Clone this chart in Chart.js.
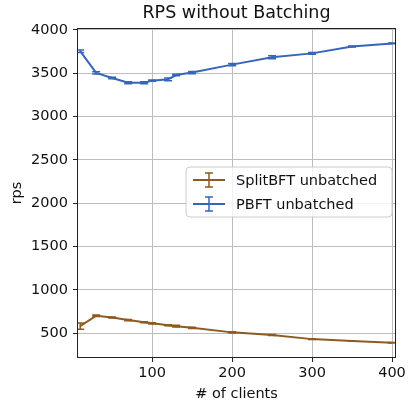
<!DOCTYPE html>
<html>
<head>
<meta charset="utf-8">
<script src="https://cdn.jsdelivr.net/npm/chart.js@4/dist/chart.umd.min.js"></script>
<style>
  html, body { margin: 0; padding: 0; background: #fff; }
  #wrap { width: 413px; height: 403px; }
</style>
</head>
<body>
<div id="wrap"><canvas id="rps" width="413" height="403"></canvas></div>
<script>
// values
const clients  = [10, 30, 50, 70, 90, 100, 120, 130, 150, 200, 250, 300, 350, 400];
const pbft     = [3755, 3505, 3445, 3390, 3390, 3415, 3430, 3480, 3508, 3600, 3685, 3730, 3810, 3845];
const pbftErr  = [15, 12, 8, 12, 12, 8, 15, 8, 12, 12, 18, 10, 5, 5];
const split    = [580, 700, 680, 650, 625, 612, 590, 580, 560, 508, 477, 430, 408, 388];
const splitErr = [35, 10, 6, 8, 6, 8, 6, 10, 6, 6, 6, 5, 4, 4];
const xTicks = [100, 200, 300, 400];
const yTicks = [500, 1000, 1500, 2000, 2500, 3000, 3500, 4000];

const ORANGE = "#8f5a22";
const BLUE = "#3666ba";
const FONT = "DejaVu Sans";

function pts(xs, ys){ return xs.map((x,i) => ({ x, y: ys[i] })); }

const extras = {
  id: "extras",
  afterDatasetsDraw(chart){
    const { ctx, chartArea: a, scales: { x, y } } = chart;
    // error bars
    const sets = [[split, splitErr, ORANGE], [pbft, pbftErr, BLUE]];
    ctx.save();
    ctx.beginPath(); ctx.rect(a.left, a.top, a.right - a.left, a.bottom - a.top); ctx.clip();
    sets.forEach(([vals, errs, col]) => {
      ctx.strokeStyle = col; ctx.lineWidth = 1.5;
      clients.forEach((c, i) => {
        const px = x.getPixelForValue(c);
        const y1 = y.getPixelForValue(vals[i] + errs[i]);
        const y2 = y.getPixelForValue(vals[i] - errs[i]);
        ctx.beginPath();
        ctx.moveTo(px, y1); ctx.lineTo(px, y2);
        ctx.moveTo(px - 4, y1); ctx.lineTo(px + 4, y1);
        ctx.moveTo(px - 4, y2); ctx.lineTo(px + 4, y2);
        ctx.stroke();
      });
    });
    ctx.restore();
  },
  afterDraw(chart){
    const { ctx, chartArea: a } = chart;
    ctx.save();
    // frame
    ctx.strokeStyle = "#222"; ctx.lineWidth = 1;
    ctx.strokeRect(a.left + 0.5, a.top + 0.5, a.right - a.left - 1, a.bottom - a.top - 1);
    // texts
    ctx.fillStyle = "#111";
    ctx.textAlign = "center"; ctx.textBaseline = "middle";
    ctx.font = "17.5px " + FONT;
    ctx.fillText("RPS without Batching", (a.left + a.right) / 2, 13);
    ctx.font = "14.5px " + FONT;
    ctx.fillText("# of clients", (a.left + a.right) / 2, 394);
    ctx.translate(17, (a.top + a.bottom) / 2);
    ctx.rotate(-Math.PI / 2);
    ctx.fillText("rps", 0, 0);
    ctx.restore();

    // legend
    ctx.save();
    const lx = 186, ly = 167, lw = 206, lh = 50, r = 4;
    ctx.beginPath();
    ctx.moveTo(lx + r, ly);
    ctx.arcTo(lx + lw, ly, lx + lw, ly + lh, r);
    ctx.arcTo(lx + lw, ly + lh, lx, ly + lh, r);
    ctx.arcTo(lx, ly + lh, lx, ly, r);
    ctx.arcTo(lx, ly, lx + lw, ly, r);
    ctx.closePath();
    ctx.fillStyle = "rgba(255,255,255,0.8)"; ctx.fill();
    ctx.strokeStyle = "#cccccc"; ctx.lineWidth = 1; ctx.stroke();
    const items = [["SplitBFT unbatched", ORANGE, 180], ["PBFT unbatched", BLUE, 204]];
    items.forEach(([label, col, cy]) => {
      ctx.strokeStyle = col;
      ctx.lineWidth = 2;
      ctx.beginPath(); ctx.moveTo(193, cy); ctx.lineTo(225, cy); ctx.stroke();
      ctx.lineWidth = 1.5;
      ctx.beginPath();
      ctx.moveTo(209, cy - 7); ctx.lineTo(209, cy + 7);
      ctx.moveTo(205, cy - 7); ctx.lineTo(213, cy - 7);
      ctx.moveTo(205, cy + 7); ctx.lineTo(213, cy + 7);
      ctx.stroke();
      ctx.fillStyle = "#111";
      ctx.font = "14.5px " + FONT;
      ctx.textAlign = "left"; ctx.textBaseline = "middle";
      ctx.fillText(label, 236, cy + 1);
    });
    ctx.restore();
  }
};

new Chart(document.getElementById("rps"), {
  type: "line",
  data: {
    datasets: [
      { label: "SplitBFT unbatched", data: pts(clients, split), borderColor: ORANGE, borderWidth: 2, pointRadius: 0, tension: 0 },
      { label: "PBFT unbatched", data: pts(clients, pbft), borderColor: BLUE, borderWidth: 2, pointRadius: 0, tension: 0 }
    ]
  },
  options: {
    responsive: false,
    animation: false,
    devicePixelRatio: 1,
    layout: { padding: { left: 0, right: 17, top: 28, bottom: 0 } },
    plugins: { legend: { display: false }, tooltip: { enabled: false }, title: { display: false } },
    scales: {
      x: {
        type: "linear", min: 6, max: 405,
        afterBuildTicks: s => { s.ticks = xTicks.map(v => ({ value: v })); },
        afterFit: s => { s.height = 45; },
        grid: { color: "#bdbdbd", lineWidth: 1, tickLength: 4, tickColor: "#222", drawTicks: true },
        border: { display: false },
        ticks: { color: "#111", font: { family: FONT, size: 14.5 }, padding: 3, maxRotation: 0, callback: v => String(v) }
      },
      y: {
        type: "linear", min: 212, max: 4023,
        afterBuildTicks: s => { s.ticks = yTicks.map(v => ({ value: v })); },
        afterFit: s => { s.width = 77; },
        grid: { color: "#bdbdbd", lineWidth: 1, tickLength: 4, tickColor: "#222" },
        border: { display: false },
        ticks: { color: "#111", font: { family: FONT, size: 14.5 }, padding: 5, callback: v => String(v) }
      }
    }
  },
  plugins: [extras]
});
</script>
</body>
</html>
